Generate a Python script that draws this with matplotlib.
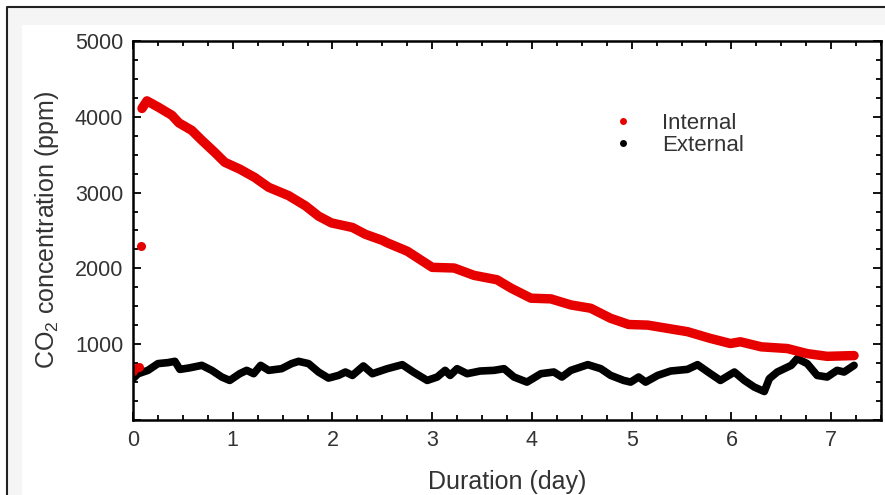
import numpy as np
import matplotlib.pyplot as plt
from matplotlib.lines import Line2D
from matplotlib.patches import Rectangle

plt.rcParams['font.family'] = ['Liberation Sans', 'DejaVu Sans']
plt.rcParams['mathtext.fontset'] = 'custom'
plt.rcParams['mathtext.rm'] = 'Liberation Sans'
plt.rcParams['mathtext.it'] = 'Liberation Sans:italic'

# internal CO2 (ppm) vs duration (day)
int_day = [0.0, 0.03, 0.06, 0.08,
           0.09, 0.14, 0.25, 0.39, 0.46, 0.59, 0.69, 0.82, 0.92, 1.07, 1.22,
           1.36, 1.56, 1.73, 1.86, 1.99, 2.20, 2.33, 2.50, 2.55, 2.75, 2.88,
           3.00, 3.22, 3.42, 3.65, 3.79, 3.99, 4.19, 4.39, 4.59, 4.79, 4.97,
           5.16, 5.56, 5.79, 5.99, 6.09, 6.30, 6.56, 6.76, 6.96, 7.23]
int_ppm = [650, 680, 700, 2290,
           4110, 4210, 4130, 4020, 3920, 3820, 3690, 3530, 3400, 3310, 3200,
           3070, 2960, 2825, 2690, 2600, 2540, 2450, 2370, 2337, 2227, 2116,
           2014, 2005, 1908, 1850, 1740, 1607, 1598, 1518, 1474, 1341, 1260,
           1252, 1165, 1076, 1009, 1032, 965, 943, 876, 840, 850]
n_loose = 4  # first few internal readings are isolated dots

# external CO2 (ppm)
ext_day = [0.0, 0.05, 0.15, 0.25, 0.35, 0.42, 0.47, 0.56, 0.69, 0.79, 0.89,
           0.97, 1.07, 1.14, 1.21, 1.28, 1.36, 1.49, 1.59, 1.66, 1.76, 1.86,
           1.96, 2.06, 2.13, 2.20, 2.31, 2.40, 2.50, 2.55, 2.70, 2.81, 2.95,
           3.05, 3.13, 3.18, 3.25, 3.35, 3.48, 3.62, 3.72, 3.82, 3.95, 4.09,
           4.22, 4.30, 4.39, 4.56, 4.69, 4.79, 4.92, 4.99, 5.07, 5.14, 5.26,
           5.39, 5.56, 5.66, 5.79, 5.89, 6.03, 6.13, 6.23, 6.33, 6.38, 6.46,
           6.60, 6.66, 6.76, 6.86, 6.96, 7.06, 7.13, 7.23]
ext_ppm = [545, 610, 655, 744, 757, 774, 668, 686, 721, 655, 567,
           522, 611, 655, 611, 721, 655, 677, 744, 774, 744, 633,
           553, 588, 633, 588, 713, 611, 655, 677, 730, 633, 522,
           567, 655, 588, 677, 611, 646, 655, 677, 567, 500, 611,
           633, 567, 655, 730, 677, 588, 522, 500, 567, 500, 588,
           646, 668, 730, 611, 522, 633, 522, 434, 376, 545, 633,
           721, 810, 744, 588, 567, 655, 633, 721]

red = '#e60000'
txt = '#333333'

fig = plt.figure(figsize=(8.85, 4.95), dpi=100)
W, H = 885, 495

# picture frame: thin dark border, pale band, white inside
fig.patches.append(Rectangle((7 / W, 0), 1 - 7 / W, 1 - 7 / H, transform=fig.transFigure,
                             facecolor='#f5f5f5', edgecolor='none', zorder=-3))
fig.patches.append(Rectangle((22 / W, 0), 1, 1 - 25 / H, transform=fig.transFigure,
                             facecolor='white', edgecolor='none', zorder=-2))
fig.lines.append(Line2D([7 / W, 7 / W, 1], [0, 1 - 7 / H, 1 - 7 / H], transform=fig.transFigure,
                        color='#222222', lw=1.5))

ax = fig.add_axes([133 / W, 1 - 420 / H, 748 / W, 379 / H])

ax.plot(ext_day, ext_ppm, '-', color='black', lw=5.5,
        solid_capstyle='round', solid_joinstyle='round')
ax.plot(int_day[n_loose:], int_ppm[n_loose:], '-', color=red, lw=6.8,
        solid_capstyle='round', solid_joinstyle='round')
ax.plot(int_day[:n_loose], int_ppm[:n_loose], 'o', color=red, ms=6.5, mec='none')

ax.set_xlim(0, 7.5)
ax.set_ylim(0, 5000)
ax.set_xticks(np.arange(0, 8, 1))
ax.set_xticks(np.arange(0, 7.51, 0.25), minor=True)
ax.set_yticks(np.arange(0, 5001, 1000))
ax.set_yticks(np.arange(0, 5001, 250), minor=True)
ax.set_yticklabels(['', '1000', '2000', '3000', '4000', '5000'])

ax.tick_params(which='both', direction='in', top=True, right=True, width=1.3)
ax.tick_params(which='major', length=6, labelsize=15.5, pad=7)
ax.tick_params(which='minor', length=3.5)
for lbl in ax.get_xticklabels() + ax.get_yticklabels():
    lbl.set_color(txt)
for s in ax.spines.values():
    s.set_linewidth(1.8)

ax.set_xlabel('Duration (day)', fontsize=18, color=txt, labelpad=14)
ax.set_ylabel(r'CO$_2$ concentration (ppm)', fontsize=18, color=txt, labelpad=10)

handles = [Line2D([], [], ls='none', marker='o', color=red, ms=5, mec='none'),
           Line2D([], [], ls='none', marker='o', color='black', ms=5, mec='none')]
ax.legend(handles, ['Internal', 'External'], loc='upper left', bbox_to_anchor=(0.626, 0.84),
          frameon=False, fontsize=16, handlelength=1.0, handletextpad=1.25,
          labelspacing=0.05, borderpad=0, labelcolor=txt)

fig.savefig('out.png', dpi=100)
